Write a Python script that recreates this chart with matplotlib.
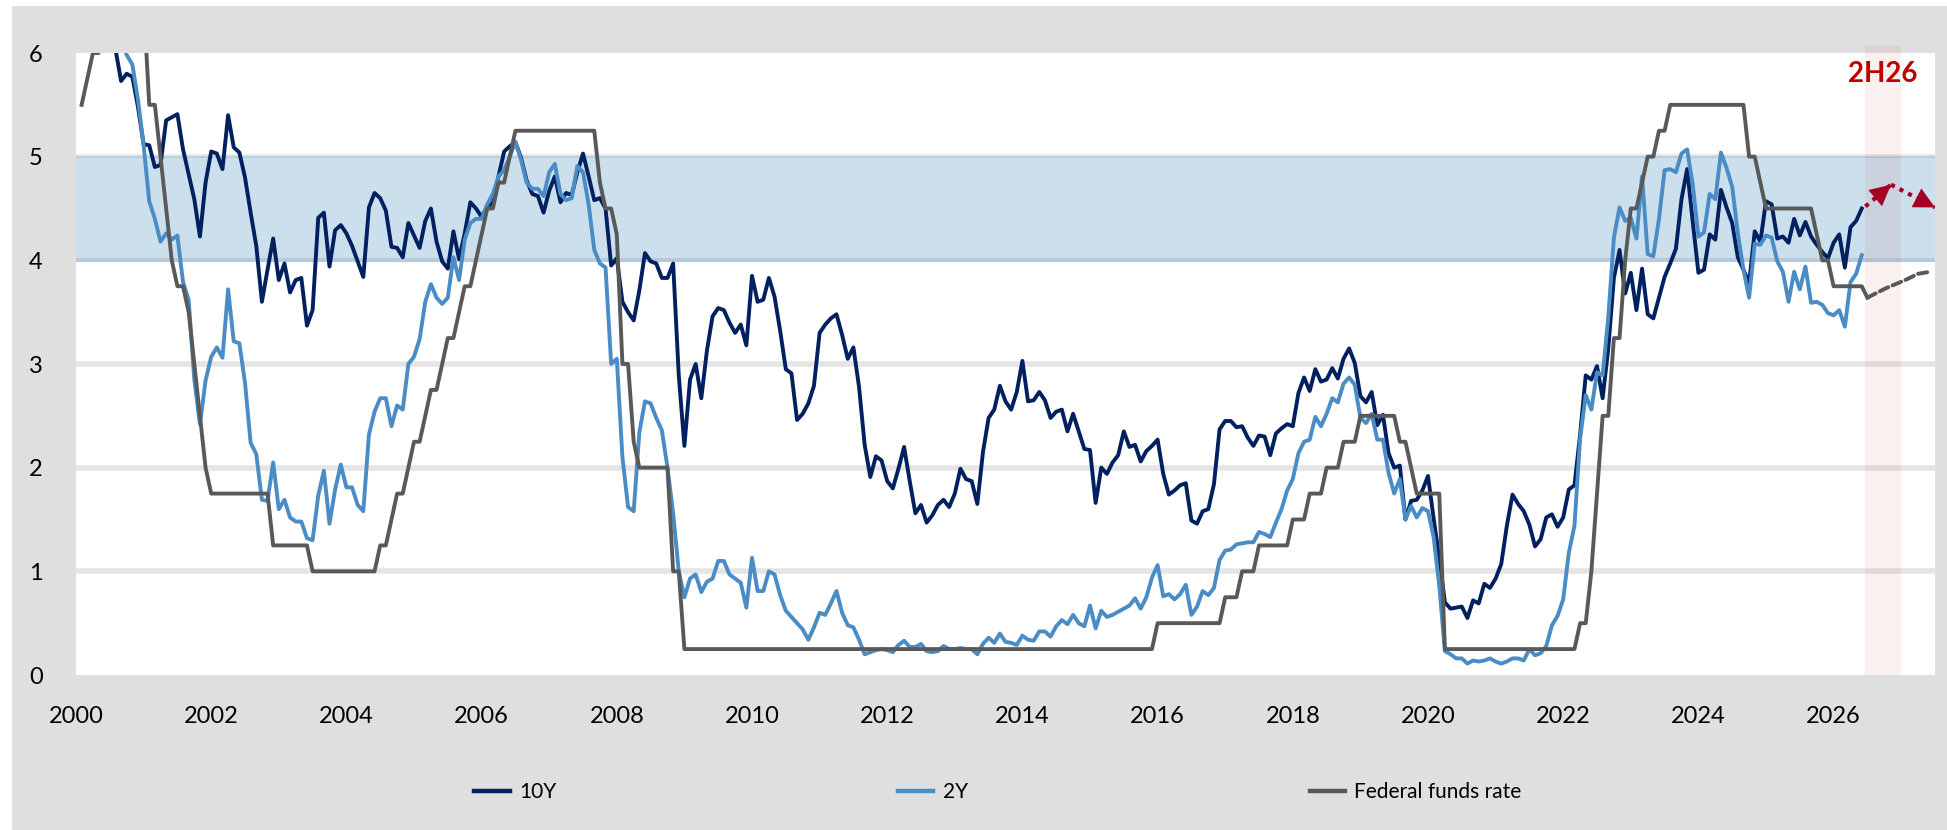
import numpy as np
import matplotlib.pyplot as plt
from matplotlib.patches import Rectangle
from matplotlib.lines import Line2D

plt.rcParams['font.family'] = ['Lato', 'DejaVu Sans']

# month-end yields, Jan 2000 .. May 2026
y10 = [
    6.68, 6.42, 6.03, 6.23, 6.29, 6.03, 6.04, 5.73, 5.80, 5.77, 5.48, 5.12,  # 2000
    5.11, 4.90, 4.92, 5.35, 5.38, 5.41, 5.07, 4.83, 4.59, 4.23, 4.75, 5.05,  # 2001
    5.03, 4.88, 5.40, 5.09, 5.04, 4.80, 4.46, 4.14, 3.60, 3.91, 4.21, 3.81,  # 2002
    3.97, 3.69, 3.81, 3.83, 3.37, 3.52, 4.41, 4.46, 3.94, 4.29, 4.34, 4.26,  # 2003
    4.14, 3.99, 3.84, 4.51, 4.65, 4.60, 4.48, 4.13, 4.12, 4.03, 4.36, 4.24,  # 2004
    4.12, 4.38, 4.50, 4.18, 3.99, 3.92, 4.28, 4.01, 4.26, 4.56, 4.50, 4.42,  # 2005
    4.52, 4.55, 4.81, 5.05, 5.10, 5.14, 4.99, 4.77, 4.64, 4.62, 4.46, 4.67,  # 2006
    4.81, 4.56, 4.65, 4.63, 4.85, 5.03, 4.81, 4.58, 4.60, 4.50, 3.95, 4.02,  # 2007
    3.60, 3.50, 3.42, 3.71, 4.07, 3.99, 3.97, 3.83, 3.83, 3.97, 2.89, 2.21,  # 2008
    2.85, 3.00, 2.67, 3.13, 3.46, 3.54, 3.52, 3.40, 3.30, 3.38, 3.18, 3.85,  # 2009
    3.60, 3.62, 3.83, 3.65, 3.32, 2.95, 2.91, 2.46, 2.52, 2.62, 2.79, 3.30,  # 2010
    3.38, 3.44, 3.48, 3.28, 3.05, 3.16, 2.78, 2.22, 1.91, 2.11, 2.07, 1.87,  # 2011
    1.80, 1.99, 2.20, 1.87, 1.56, 1.64, 1.47, 1.54, 1.64, 1.69, 1.62, 1.75,  # 2012
    1.99, 1.89, 1.87, 1.65, 2.15, 2.48, 2.56, 2.79, 2.64, 2.56, 2.73, 3.03,  # 2013
    2.64, 2.65, 2.73, 2.65, 2.48, 2.54, 2.56, 2.35, 2.52, 2.35, 2.18, 2.17,  # 2014
    1.66, 2.00, 1.94, 2.05, 2.12, 2.35, 2.20, 2.22, 2.06, 2.16, 2.21, 2.27,  # 2015
    1.94, 1.74, 1.78, 1.83, 1.85, 1.49, 1.46, 1.58, 1.60, 1.84, 2.37, 2.45,  # 2016
    2.45, 2.39, 2.40, 2.29, 2.21, 2.31, 2.30, 2.12, 2.33, 2.38, 2.42, 2.40,  # 2017
    2.72, 2.87, 2.74, 2.95, 2.83, 2.85, 2.96, 2.86, 3.05, 3.15, 3.01, 2.69,  # 2018
    2.63, 2.73, 2.41, 2.51, 2.14, 2.00, 2.02, 1.50, 1.68, 1.69, 1.78, 1.92,  # 2019
    1.51, 1.13, 0.70, 0.64, 0.65, 0.66, 0.55, 0.72, 0.69, 0.88, 0.84, 0.93,  # 2020
    1.07, 1.44, 1.74, 1.65, 1.58, 1.45, 1.24, 1.31, 1.52, 1.55, 1.43, 1.52,  # 2021
    1.79, 1.83, 2.32, 2.89, 2.85, 2.98, 2.67, 3.15, 3.83, 4.10, 3.68, 3.88,  # 2022
    3.52, 3.92, 3.48, 3.44, 3.64, 3.84, 3.97, 4.11, 4.59, 4.88, 4.37, 3.88,  # 2023
    3.91, 4.25, 4.20, 4.68, 4.51, 4.36, 4.03, 3.91, 3.78, 4.28, 4.18, 4.57,  # 2024
    4.54, 4.21, 4.23, 4.17, 4.40, 4.24, 4.37, 4.23, 4.15, 4.08, 4.02, 4.17,  # 2025
    4.25, 3.93, 4.32, 4.38, 4.50,                                            # 2026
]

y2 = [
    6.61, 6.61, 6.50, 6.75, 6.75, 6.36, 6.27, 6.16, 5.98, 5.89, 5.55, 5.11,  # 2000
    4.57, 4.40, 4.18, 4.26, 4.20, 4.24, 3.79, 3.62, 2.85, 2.42, 2.84, 3.07,  # 2001
    3.16, 3.06, 3.72, 3.22, 3.20, 2.82, 2.24, 2.13, 1.69, 1.68, 2.05, 1.60,  # 2002
    1.69, 1.52, 1.48, 1.48, 1.32, 1.30, 1.73, 1.97, 1.46, 1.79, 2.03, 1.81,  # 2003
    1.81, 1.64, 1.58, 2.32, 2.54, 2.67, 2.67, 2.40, 2.60, 2.56, 3.00, 3.07,  # 2004
    3.24, 3.60, 3.77, 3.64, 3.58, 3.64, 4.03, 3.81, 4.20, 4.36, 4.40, 4.40,  # 2005
    4.54, 4.64, 4.81, 4.87, 5.00, 5.14, 4.97, 4.75, 4.69, 4.69, 4.62, 4.85,  # 2006
    4.93, 4.64, 4.58, 4.60, 4.91, 4.85, 4.54, 4.10, 3.97, 3.93, 3.00, 3.05,  # 2007
    2.10, 1.62, 1.58, 2.34, 2.64, 2.62, 2.48, 2.36, 2.00, 1.56, 1.00, 0.75,  # 2008
    0.93, 0.97, 0.80, 0.90, 0.93, 1.10, 1.10, 0.97, 0.93, 0.89, 0.65, 1.13,  # 2009
    0.81, 0.81, 1.00, 0.97, 0.77, 0.62, 0.56, 0.50, 0.44, 0.34, 0.46, 0.60,  # 2010
    0.58, 0.69, 0.81, 0.60, 0.48, 0.46, 0.34, 0.20, 0.22, 0.24, 0.25, 0.24,  # 2011
    0.22, 0.29, 0.33, 0.27, 0.27, 0.30, 0.23, 0.22, 0.23, 0.28, 0.25, 0.25,  # 2012
    0.26, 0.25, 0.25, 0.20, 0.30, 0.36, 0.31, 0.40, 0.32, 0.31, 0.29, 0.38,  # 2013
    0.34, 0.33, 0.42, 0.42, 0.37, 0.47, 0.53, 0.49, 0.58, 0.50, 0.47, 0.67,  # 2014
    0.45, 0.62, 0.56, 0.58, 0.61, 0.64, 0.67, 0.74, 0.64, 0.75, 0.94, 1.06,  # 2015
    0.76, 0.78, 0.73, 0.78, 0.87, 0.58, 0.66, 0.81, 0.77, 0.84, 1.11, 1.20,  # 2016
    1.21, 1.26, 1.27, 1.28, 1.28, 1.38, 1.36, 1.33, 1.47, 1.60, 1.78, 1.89,  # 2017
    2.14, 2.25, 2.27, 2.49, 2.40, 2.52, 2.67, 2.63, 2.81, 2.87, 2.80, 2.48,  # 2018
    2.43, 2.52, 2.27, 2.27, 1.95, 1.75, 1.89, 1.50, 1.63, 1.52, 1.61, 1.58,  # 2019
    1.33, 0.86, 0.23, 0.20, 0.16, 0.16, 0.11, 0.14, 0.13, 0.14, 0.16, 0.13,  # 2020
    0.11, 0.13, 0.16, 0.16, 0.14, 0.25, 0.19, 0.21, 0.28, 0.48, 0.57, 0.73,  # 2021
    1.18, 1.44, 2.28, 2.70, 2.56, 2.92, 2.89, 3.45, 4.22, 4.51, 4.38, 4.41,  # 2022
    4.21, 4.81, 4.06, 4.04, 4.40, 4.87, 4.88, 4.85, 5.03, 5.07, 4.73, 4.23,  # 2023
    4.27, 4.64, 4.59, 5.04, 4.89, 4.71, 4.26, 3.91, 3.64, 4.16, 4.15, 4.24,  # 2024
    4.22, 3.99, 3.89, 3.60, 3.89, 3.72, 3.94, 3.59, 3.60, 3.57, 3.49, 3.47,  # 2025
    3.52, 3.36, 3.79, 3.87, 4.05,                                            # 2026
]

# fed funds target (upper), Jan 2000 .. Jun 2026
fed = (
    [5.5, 5.75, 6.0, 6.0, 6.5, 6.5, 6.5, 6.5, 6.5, 6.5, 6.5, 6.5]            # 2000
    + [5.5, 5.5, 5.0, 4.5, 4.0, 3.75, 3.75, 3.5, 3.0, 2.5, 2.0, 1.75]        # 2001
    + [1.75] * 10 + [1.25, 1.25]                                             # 2002
    + [1.25] * 5 + [1.0] * 7                                                 # 2003
    + [1.0] * 5 + [1.25, 1.25, 1.5, 1.75, 1.75, 2.0, 2.25]                   # 2004
    + [2.25, 2.5, 2.75, 2.75, 3.0, 3.25, 3.25, 3.5, 3.75, 3.75, 4.0, 4.25]   # 2005
    + [4.5, 4.5, 4.75, 4.75, 5.0] + [5.25] * 7                               # 2006
    + [5.25] * 8 + [4.75, 4.5, 4.5, 4.25]                                    # 2007
    + [3.0, 3.0, 2.25, 2.0, 2.0, 2.0, 2.0, 2.0, 2.0, 1.0, 1.0, 0.25]         # 2008
    + [0.25] * 83 + [0.5]                                                    # 2009-2015
    + [0.5] * 11 + [0.75]                                                    # 2016
    + [0.75, 0.75, 1.0, 1.0, 1.0] + [1.25] * 6 + [1.5]                       # 2017
    + [1.5, 1.5, 1.75, 1.75, 1.75, 2.0, 2.0, 2.0, 2.25, 2.25, 2.25, 2.5]     # 2018
    + [2.5] * 6 + [2.25, 2.25, 2.0, 1.75, 1.75, 1.75]                        # 2019
    + [1.75, 1.75] + [0.25] * 10                                             # 2020
    + [0.25] * 12                                                            # 2021
    + [0.25, 0.25, 0.5, 0.5, 1.0, 1.75, 2.5, 2.5, 3.25, 3.25, 4.0, 4.5]      # 2022
    + [4.5, 4.75, 5.0, 5.0, 5.25, 5.25] + [5.5] * 6                          # 2023
    + [5.5] * 8 + [5.0, 5.0, 4.75, 4.5]                                      # 2024
    + [4.5] * 8 + [4.25, 4.0, 4.0, 3.75]                                     # 2025
    + [3.75] * 5 + [3.64]                                                    # 2026
)

# projections for 2H26
fed_fcst_x = [2026.5, 2026.77, 2027.06, 2027.25, 2027.43]
fed_fcst = [3.64, 3.73, 3.81, 3.87, 3.89]
arrow_x = [2026.47, 2026.85, 2027.5]
arrow_y = [4.52, 4.73, 4.51]


def month_ends(n):
    return 2000 + (np.arange(n) + 1) / 12


W, H = 1947, 830
fig = plt.figure(figsize=(W / 100, H / 100), dpi=100, facecolor='white')
fig.patches.append(Rectangle((12 / W, 0), 1, 1 - 6 / H, transform=fig.transFigure,
                             fc='#DFDFDF', ec='none', zorder=-10))

ax = fig.add_axes([76 / W, 155 / H, (1935 - 76) / W, (675 - 53) / H])
ax.set_facecolor('white')
ax.set_xlim(2000, 2027.5)
ax.set_ylim(0, 6)
for s in ax.spines.values():
    s.set_visible(False)

ax.set_yticks(range(7))
ax.set_xticks(range(2000, 2027, 2))
ax.tick_params(axis='both', length=0, labelsize=17, colors='black')
ax.tick_params(axis='x', pad=22)
ax.tick_params(axis='y', pad=24)

for v in [1, 2, 3, 5]:
    ax.axhline(v, color='#E5E5E5', lw=4, zorder=0.5)

# 4-5% band
ax.axhspan(4, 5, fc='#CCDFED', ec='none', zorder=1)
ax.axhline(5, color='#BCCEDC', lw=1.5, zorder=1.1)
ax.axhline(4, color='#B8CAD9', lw=3, zorder=1.1)

# 2H26 highlight
ax.axvspan(2026.46, 2027.0, ymin=0, ymax=1.012, color='#C00000', alpha=0.06,
           lw=0, zorder=2, clip_on=False)

c10, c2, cf = '#002060', '#4A8CC5', '#595959'
lw = 2.8
ax.plot(month_ends(len(y10)), y10, color=c10, lw=lw, zorder=3)
ax.plot(month_ends(len(y2)), y2, color=c2, lw=lw, zorder=4)
ax.plot(month_ends(len(fed)), fed, color=cf, lw=lw, zorder=5)

ax.plot(fed_fcst_x, fed_fcst, color=cf, lw=lw, zorder=5,
        linestyle=(0, (2.4, 1.2)), dash_capstyle='round')

red = '#A50021'
ax.plot(arrow_x[:2], arrow_y[:2], color=red, lw=3, zorder=6,
        linestyle=(0, (1, 1.3)))
ax.plot(arrow_x[1:], arrow_y[1:], color=red, lw=3, zorder=6,
        linestyle=(0, (1, 1.3)))
for i in (0, 1):
    x0, y0 = arrow_x[i], arrow_y[i]
    x1, y1 = arrow_x[i + 1], arrow_y[i + 1]
    ax.annotate('', xy=(x1, y1), xytext=(x1 - 0.2 * (x1 - x0), y1 - 0.2 * (y1 - y0)),
                arrowprops=dict(arrowstyle='-|>,head_length=0.75,head_width=0.38',
                                mutation_scale=20, color=red, lw=0,
                                shrinkA=0, shrinkB=0), zorder=7)

ax.text(2026.73, 5.8, '2H26', color='#C00000', fontsize=20, fontweight='bold',
        ha='center', va='center', family=['Liberation Sans Narrow', 'Lato'])

handles = [Line2D([], [], color=c10, lw=3.2), Line2D([], [], color=c2, lw=3.2),
           Line2D([], [], color=cf, lw=3.2)]
fig.legend(handles, ['10Y', '2Y', 'Federal funds rate'], loc='center left',
           bbox_to_anchor=(466 / W, 1 - 792 / H), ncol=3, frameon=False,
           fontsize=15, handlelength=1.7, handletextpad=0.45,
           columnspacing=16.4, borderaxespad=0)

fig.savefig('out.png', dpi=100, facecolor=fig.get_facecolor())
